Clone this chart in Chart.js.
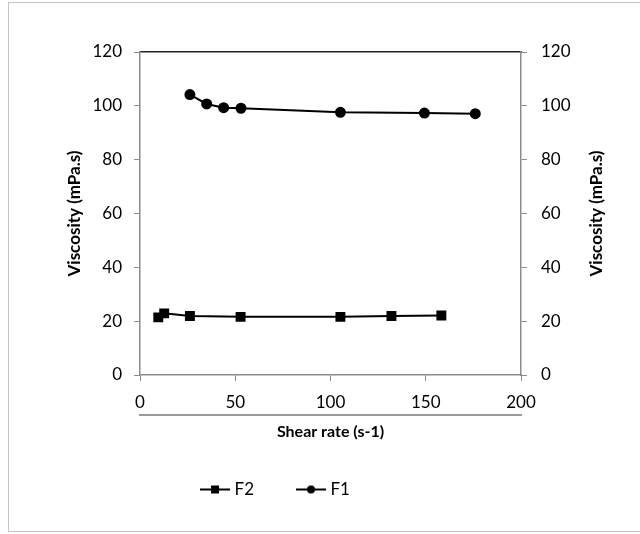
<!DOCTYPE html>
<html>
<head>
<meta charset="utf-8">
<script src="https://cdn.jsdelivr.net/npm/chart.js@4/dist/chart.umd.min.js"></script>
<style>
  html, body { margin: 0; padding: 0; background: #fff; }
  #wrap { width: 640px; height: 534px; position: relative; }
</style>
</head>
<body>
<div id="wrap"><canvas id="chart" width="640" height="534"></canvas></div>
<script>
// data
const f2Shear = [9.6, 12.7, 26.2, 52.8, 105.2, 132, 158.2];
const f2Visc = [21.4, 22.9, 21.9, 21.6, 21.6, 21.9, 22.1];
const f1Shear = [26.2, 35, 43.9, 53, 105.2, 149.3, 176];
const f1Visc = [104.2, 100.7, 99.3, 99.1, 97.6, 97.3, 97.1];

const xTicks = [0, 50, 100, 150, 200];
const yTicks = [0, 20, 40, 60, 80, 100, 120];

const seriesNames = ['F2', 'F1'];
const xTitle = 'Shear rate (s-1)';
const yTitle = 'Viscosity (mPa.s)';

const FONT = 'Lato';
const AXIS_GREY = '#8c8c8c';

const toPoints = (xs, ys) => xs.map((x, i) => ({ x, y: ys[i] }));

// small picture of line + marker for the legend
function legendIcon(style) {
  const c = document.createElement('canvas');
  c.width = 30;
  c.height = 10;
  const g = c.getContext('2d');
  g.strokeStyle = '#000';
  g.lineWidth = 2;
  g.beginPath();
  g.moveTo(0, 5);
  g.lineTo(30, 5);
  g.stroke();
  g.fillStyle = '#000';
  if (style === 'rect') {
    g.fillRect(11, 1, 8, 8);
  } else {
    g.beginPath();
    g.arc(15, 5, 4, 0, Math.PI * 2);
    g.fill();
  }
  return c;
}
const icons = { rect: legendIcon('rect'), circle: legendIcon('circle') };

const framePlugin = {
  id: 'frame',
  beforeDraw(chart) {
    const ctx = chart.ctx;
    ctx.save();
    ctx.strokeStyle = '#c4c4c4';
    ctx.lineWidth = 1;
    ctx.strokeRect(8.5, 2.5, 640, 529);
    ctx.restore();
  },
  afterLayout(chart) {
    // legend sits a bit left of centre in the original
    chart.legend.left -= 43;
    chart.legend.right -= 43;
  },
  afterDraw(chart) {
    // right axis title reads bottom-to-top like the left one
    const { ctx, chartArea } = chart;
    ctx.save();
    ctx.translate(597, (chartArea.top + chartArea.bottom) / 2);
    ctx.rotate(-Math.PI / 2);
    ctx.font = `bold 17px ${FONT}`;
    ctx.fillStyle = '#000';
    ctx.textAlign = 'center';
    ctx.textBaseline = 'middle';
    ctx.fillText(yTitle, 0, 0);
    ctx.restore();
  },
};

new Chart(document.getElementById('chart'), {
  type: 'line',
  data: {
    datasets: [
      {
        label: seriesNames[0],
        data: toPoints(f2Shear, f2Visc),
        borderColor: '#000',
        backgroundColor: '#000',
        borderWidth: 2,
        pointStyle: 'rect',
        pointRadius: 5.6,
        pointHoverRadius: 5.6,
        tension: 0,
        yAxisID: 'y',
      },
      {
        label: seriesNames[1],
        data: toPoints(f1Shear, f1Visc),
        borderColor: '#000',
        backgroundColor: '#000',
        borderWidth: 2,
        pointStyle: 'circle',
        pointRadius: 4.5,
        pointHoverRadius: 4.5,
        tension: 0,
        yAxisID: 'y2',
      },
    ],
  },
  options: {
    responsive: false,
    animation: false,
    layout: { padding: { top: 52, left: 0, right: 0, bottom: 26 } },
    plugins: {
      tooltip: { enabled: false },
      legend: {
        position: 'bottom',
        labels: {
          font: { family: FONT, size: 17 },
          color: '#000',
          padding: 46,
          usePointStyle: true,
          pointStyleWidth: 22,
          generateLabels: chart => chart.data.datasets.map((ds, i) => ({
            text: ds.label,
            pointStyle: icons[ds.pointStyle],
            fillStyle: '#000',
            strokeStyle: '#000',
            lineWidth: 0,
            hidden: false,
            datasetIndex: i,
            fontColor: '#000',
          })),
        },
      },
    },
    scales: {
      x: {
        type: 'linear',
        position: 'bottom',
        weight: 0,
        min: 0,
        max: 200,
        afterFit: s => { s.height = 40; },
        afterBuildTicks: s => { s.ticks = xTicks.map(v => ({ value: v })); },
        ticks: { font: { family: FONT, size: 17 }, color: '#000', padding: 11 },
        grid: { drawOnChartArea: false, tickLength: 6, color: AXIS_GREY, tickColor: AXIS_GREY },
        border: { color: AXIS_GREY, width: 1.5 },
      },
      x2: {
        type: 'linear',
        position: 'bottom',
        weight: 1,
        min: 0,
        max: 200,
        afterFit: s => { s.height = 20; },
        ticks: { display: false },
        grid: { drawOnChartArea: false, drawTicks: false, tickLength: 0 },
        border: { color: '#9a9a9a', width: 2 },
        title: {
          display: true,
          text: xTitle,
          font: { family: FONT, size: 16, weight: 'bold' },
          color: '#000',
          padding: { top: 0, bottom: -6.6 },
        },
      },
      xTop: {
        type: 'linear',
        position: 'top',
        min: 0,
        max: 200,
        afterFit: s => { s.height = 0; },
        ticks: { display: false },
        grid: { drawOnChartArea: false, drawTicks: false, tickLength: 0 },
        border: { color: '#222', width: 1.5 },
      },
      y: {
        type: 'linear',
        position: 'left',
        min: 0,
        max: 120,
        afterFit: s => { s.width = 140; },
        afterBuildTicks: s => { s.ticks = yTicks.map(v => ({ value: v })); },
        ticks: { font: { family: FONT, size: 17 }, color: '#000', padding: 12 },
        grid: { drawOnChartArea: false, tickLength: 6, color: AXIS_GREY, tickColor: AXIS_GREY },
        border: { color: AXIS_GREY, width: 1.5 },
        title: {
          display: true,
          text: yTitle,
          font: { family: FONT, size: 17, weight: 'bold' },
          color: '#000',
          padding: { top: 64.8, bottom: 0 },
        },
      },
      y2: {
        type: 'linear',
        position: 'right',
        min: 0,
        max: 120,
        afterFit: s => { s.width = 119; },
        afterBuildTicks: s => { s.ticks = yTicks.map(v => ({ value: v })); },
        ticks: { font: { family: FONT, size: 17 }, color: '#000', padding: 14 },
        grid: { drawOnChartArea: false, tickLength: 6, color: AXIS_GREY, tickColor: AXIS_GREY },
        border: { color: AXIS_GREY, width: 1.5 },
      },
    },
  },
  plugins: [framePlugin],
});
</script>
</body>
</html>
